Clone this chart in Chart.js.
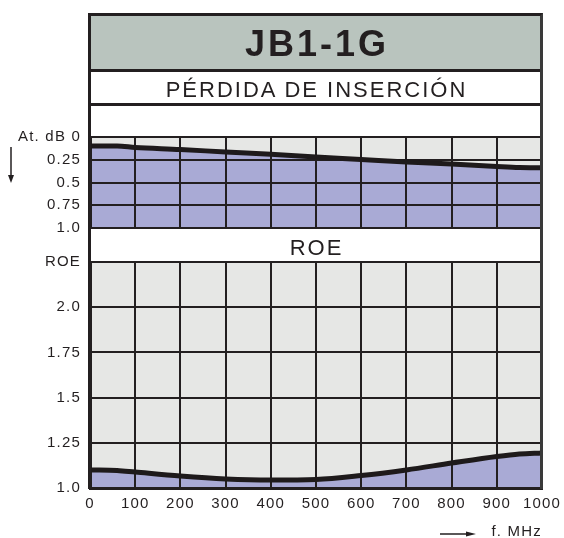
<!DOCTYPE html>
<html>
<head>
<meta charset="utf-8">
<title>JB1-1G</title>
<script src="https://cdn.jsdelivr.net/npm/chart.js@4.4.1/dist/chart.umd.min.js"></script>
<style>
  html, body { margin: 0; padding: 0; background: #fff; }
  body {
    width: 564px; height: 538px; position: relative; overflow: hidden;
    font-family: "Liberation Sans", Arial, sans-serif; color: #231f20;
  }
  .abs { position: absolute; }
  #titleBand { left: 88px; top: 13px; width: 455px; height: 56px; background: #b9c4be; }
  .rule { left: 88px; width: 455px; height: 3px; background: #231f20; z-index: 6; }
  .plotBg { left: 90px; width: 452px; background: #e6e7e5; }
  #frame {
    left: 88px; top: 13px; width: 455px; height: 476px; box-sizing: border-box;
    border-left: 3px solid #231f20; border-right: 3px solid #3a3a3a; border-top: 3px solid #231f20;
    z-index: 6; pointer-events: none;
  }
  .label { left: 88px; width: 455px; text-align: center; z-index: 7; white-space: nowrap; }
  #title { top: 19px; height: 50px; line-height: 50px; font-size: 36px; font-weight: bold; letter-spacing: 3px; padding-left: 3px; box-sizing: border-box; }
  #subtitle { top: 75px; height: 30px; line-height: 30px; font-size: 22px; letter-spacing: 2px; padding-left: 2px; box-sizing: border-box; }
  #roeTitle { top: 233px; height: 30px; line-height: 30px; font-size: 22px; letter-spacing: 2px; padding-left: 2px; box-sizing: border-box; }
  canvas { position: absolute; left: 0; z-index: 3; }
  #lossChart { top: 120px; }
  #roeChart { top: 240px; }
</style>
</head>
<body>
<div id="titleBand" class="abs"></div>
<div class="abs rule" style="top:69px"></div>
<div class="abs rule" style="top:103px"></div>
<div class="abs plotBg" style="top:137px;height:91px"></div>
<div class="abs plotBg" style="top:262px;height:226px"></div>
<div id="frame" class="abs"></div>
<div id="title" class="abs label">JB1-1G</div>
<div id="subtitle" class="abs label">PÉRDIDA DE INSERCIÓN</div>
<div id="roeTitle" class="abs label">ROE</div>

<canvas id="lossChart" width="564" height="125"></canvas>
<canvas id="roeChart" width="564" height="298"></canvas>

<script>
// frequency points (MHz)
const freqMHz = [0, 60, 100, 200, 300, 400, 500, 600, 700, 800, 900, 950, 1000];
// insertion loss, dB (drawn downwards)
const lossDb = [0.10, 0.10, 0.115, 0.137, 0.165, 0.19, 0.22, 0.247, 0.275, 0.297, 0.324, 0.335, 0.337];
// ROE (VSWR)
const roe = [1.10, 1.097, 1.088, 1.066, 1.05, 1.044, 1.047, 1.069, 1.10, 1.138, 1.174, 1.188, 1.194];

// tick labels
const freqTickLabels = ["0", "100", "200", "300", "400", "500", "600", "700", "800", "900", "1000"];
const lossTickLabels = ["At. dB 0", "0.25", "0.5", "0.75", "1.0"];
const roeTickLabels = ["1.0", "1.25", "1.5", "1.75", "2.0", "ROE"];

const INK = "#231f20";
const FILL = "#a9aad5";
const tickFont = { family: "'Liberation Sans', Arial, sans-serif", size: 15 };

// wide tracking like the printed sheet
const spacingPlugin = {
  id: "spacing",
  beforeUpdate(chart) { chart.ctx.letterSpacing = "1.2px"; },
  beforeDraw(chart) { chart.ctx.letterSpacing = "1.2px"; }
};

// small arrows next to the axis captions
const arrowPlugin = {
  id: "arrow",
  afterDraw(chart, args, opts) {
    const ctx = chart.ctx;
    const a = chart.chartArea;
    ctx.save();
    ctx.strokeStyle = INK;
    ctx.fillStyle = INK;
    ctx.lineWidth = 1.5;
    ctx.beginPath();
    if (opts.dir === "down") {
      const x = 11, y0 = a.top + 10, y1 = a.top + 46;
      ctx.moveTo(x, y0); ctx.lineTo(x, y1 - 6); ctx.stroke();
      ctx.beginPath();
      ctx.moveTo(x - 3, y1 - 8); ctx.lineTo(x + 3, y1 - 8); ctx.lineTo(x, y1);
      ctx.closePath(); ctx.fill();
    } else {
      const y = chart.height - 4, x0 = a.right - 102, x1 = a.right - 66;
      ctx.moveTo(x0, y); ctx.lineTo(x1 - 8, y); ctx.stroke();
      ctx.beginPath();
      ctx.moveTo(x1 - 10, y - 2.5); ctx.lineTo(x1, y); ctx.lineTo(x1 - 10, y + 2.5);
      ctx.closePath(); ctx.fill();
    }
    ctx.restore();
  }
};

function points(ys) {
  return freqMHz.map((f, i) => ({ x: f, y: ys[i] }));
}

function curve(ys) {
  return {
    data: points(ys),
    borderColor: "#1e1a1b",
    borderWidth: 5,
    backgroundColor: FILL,
    fill: { value: 1 },
    pointRadius: 0,
    cubicInterpolationMode: "monotone"
  };
}

// keep the plot area exactly where the frame is
function fixX(h) {
  return s => { s.height = h; s.paddingLeft = 0; s.paddingRight = 0; };
}
function fixY(s) { s.width = 90; s.paddingTop = 0; s.paddingBottom = 0; }

const gridOpts = { color: INK, lineWidth: 2, drawTicks: false };

// insertion loss panel
new Chart(document.getElementById("lossChart"), {
  type: "line",
  data: { datasets: [curve(lossDb)] },
  options: {
    responsive: false,
    animation: false,
    layout: { padding: { left: 0, right: 22, top: 17, bottom: 17 } },
    plugins: {
      legend: { display: false },
      tooltip: { enabled: false },
      filler: { drawTime: "beforeDraw" },
      arrow: { dir: "down" }
    },
    scales: {
      x: {
        type: "linear", min: 0, max: 1000,
        ticks: { stepSize: 100, display: false },
        grid: gridOpts,
        border: { display: false },
        afterFit: fixX(0)
      },
      y: {
        min: 0, max: 1, reverse: true,
        ticks: {
          stepSize: 0.25, padding: 9, color: INK, font: tickFont,
          callback: v => lossTickLabels[Math.round(v / 0.25)]
        },
        grid: gridOpts,
        border: { color: INK, width: 3 },
        afterFit: fixY
      }
    }
  },
  plugins: [spacingPlugin, arrowPlugin]
});

// ROE panel
new Chart(document.getElementById("roeChart"), {
  type: "line",
  data: { datasets: [curve(roe)] },
  options: {
    responsive: false,
    animation: false,
    layout: { padding: { left: 0, right: 22, top: 22, bottom: 0 } },
    plugins: {
      legend: { display: false },
      tooltip: { enabled: false },
      filler: { drawTime: "beforeDraw" },
      arrow: { dir: "right" }
    },
    scales: {
      x: {
        type: "linear", min: 0, max: 1000,
        ticks: {
          stepSize: 100, padding: 7, color: INK, font: tickFont,
          maxRotation: 0, autoSkip: false,
          callback: v => freqTickLabels[Math.round(v / 100)]
        },
        grid: gridOpts,
        border: { color: INK, width: 3 },
        title: {
          display: true, text: "f. MHz", align: "end", color: INK,
          font: { family: tickFont.family, size: 15, lineHeight: 0.8 },
          padding: { top: 0, bottom: 0 }
        },
        afterFit: fixX(50)
      },
      y: {
        min: 1, max: 2.25,
        ticks: {
          stepSize: 0.25, padding: 9, color: INK, font: tickFont,
          callback: v => roeTickLabels[Math.round((v - 1) / 0.25)]
        },
        grid: gridOpts,
        border: { color: INK, width: 3 },
        afterFit: fixY
      }
    }
  },
  plugins: [spacingPlugin, arrowPlugin]
});
</script>
</body>
</html>
